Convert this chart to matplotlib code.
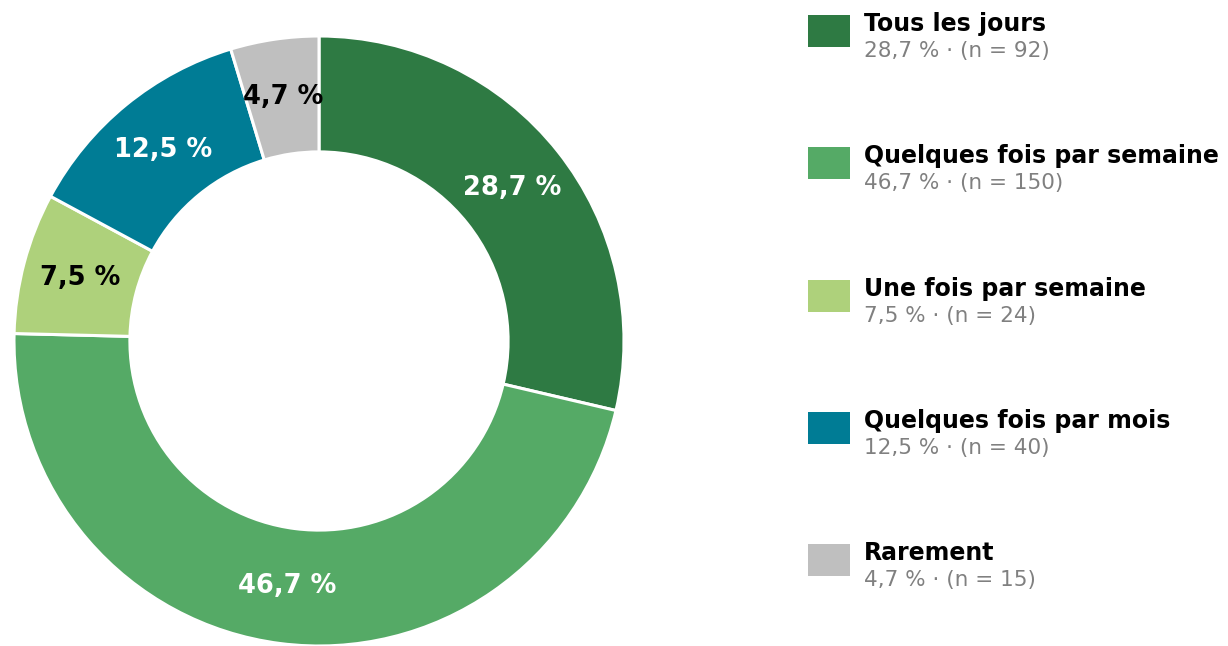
import matplotlib
matplotlib.use("Agg")
import matplotlib.pyplot as plt
from matplotlib.patches import Rectangle
import numpy as np

categories = ["Tous les jours", "Quelques fois par semaine", "Une fois par semaine",
              "Quelques fois par mois", "Rarement"]
counts = [92, 150, 24, 40, 15]
percents = [28.7, 46.7, 7.5, 12.5, 4.7]
colors = ["#2e7a43", "#55aa66", "#aed17b", "#007c95", "#bfbfbf"]
label_colors = ["white", "white", "black", "white", "black"]


def fmt(p):
    return f"{p:.1f}".replace(".", ",") + " %"


fig = plt.figure(figsize=(12.28, 6.46), dpi=100)
ax = fig.add_axes([14 / 1228, 0, 610 / 1228, 610 / 646])
wedges, _ = ax.pie(counts, colors=colors, startangle=90, counterclock=False,
                   radius=1.0, wedgeprops=dict(width=0.38, edgecolor="white", linewidth=2.2))
ax.set_xlim(-1, 1)
ax.set_ylim(-1, 1)
ax.set_aspect("equal")

r_lab = 0.81
for w, p, c in zip(wedges, percents, label_colors):
    ang = np.deg2rad((w.theta1 + w.theta2) / 2)
    ax.text(r_lab * np.cos(ang), r_lab * np.sin(ang), fmt(p), ha="center", va="center",
            color=c, fontsize=18.5, fontweight="bold")

# legend drawn by hand in figure pixels
W, H = 1228, 646
row_y = [31, 163, 296, 428, 560]
for y, cat, p, n, col in zip(row_y, categories, percents, counts, colors):
    fig.patches.append(Rectangle((808 / W, 1 - (y + 16) / H), 42 / W, 32 / H,
                                 transform=fig.transFigure, facecolor=col, edgecolor="none"))
    fig.text(864 / W, 1 - (y - 7) / H, cat, fontsize=17, fontweight="bold",
             ha="left", va="center", color="black")
    fig.text(864 / W, 1 - (y + 20) / H, f"{fmt(p)} · (n = {n})", fontsize=15.5,
             ha="left", va="center", color="#808080")

fig.savefig("out.png", dpi=100)
